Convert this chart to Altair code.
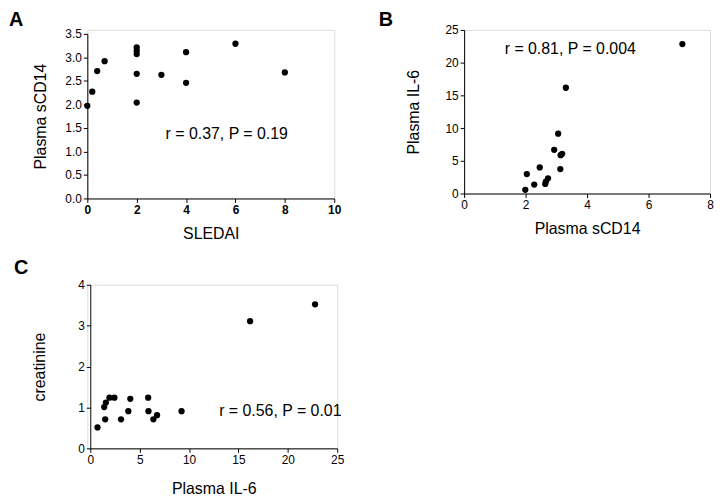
import altair as alt
import pandas as pd

FONT = "Liberation Sans"

# Panel A: SLEDAI vs Plasma sCD14
sledai = [0, 0.2, 0.4, 0.7, 2, 2, 2, 2, 2, 3, 4, 4, 6, 8]
scd14_a = [1.97, 2.27, 2.71, 2.92, 3.21, 3.14, 3.07, 2.65, 2.04, 2.63, 3.11, 2.46, 3.29, 2.68]

# Panel B: Plasma sCD14 vs Plasma IL-6
scd14_b = [1.99, 2.04, 2.28, 2.46, 2.64, 2.66, 2.73, 2.93, 3.06, 3.13, 3.14, 3.19, 3.31, 7.10]
il6_b = [0.56, 2.98, 1.36, 3.98, 1.47, 1.82, 2.32, 6.67, 9.14, 3.74, 5.86, 6.06, 16.16, 22.83]

# Panel C: Plasma IL-6 vs creatinine
il6_c = [0.73, 1.51, 1.41, 1.58, 1.94, 2.44, 3.11, 3.85, 4.05, 5.86, 5.89, 6.39, 6.76, 9.24, 16.18, 22.76]
creat_c = [0.51, 0.71, 1.01, 1.12, 1.24, 1.24, 0.71, 0.91, 1.21, 1.24, 0.91, 0.71, 0.81, 0.91, 3.11, 3.52]

labels = ["A", "B", "C"]
stats = ["r = 0.37, P = 0.19", "r = 0.81, P = 0.004", "r = 0.56, P = 0.01"]


def axis(title, values, fmt=None, bold=False, tpad=10, offset=0):
    kw = dict(title=title, values=values, grid=False, domainColor="black",
              tickColor="black", tickSize=4, labelColor="black", labelFont=FONT,
              labelFontSize=12, titleFont=FONT, titleFontSize=16,
              titleFontWeight="normal", titleColor="black", titlePadding=tpad,
              labelOverlap=False, labelFlush=False, offset=offset,
              labelFontWeight="bold" if bold else "normal")
    if fmt:
        kw["format"] = fmt
    return alt.Axis(**kw)


def panel(df, xdom, ydom, xax, yax, label, stat, sx, sy,
          lab_x, lab_y, w, h, xrange, yrange):
    xs = alt.Scale(domain=xdom, nice=False, zero=False, range=xrange)
    ys = alt.Scale(domain=ydom, nice=False, zero=False, range=yrange)
    pts = alt.Chart(df).mark_circle(size=40, color="black", opacity=1).encode(
        x=alt.X("x:Q", scale=xs, axis=xax),
        y=alt.Y("y:Q", scale=ys, axis=yax),
    )
    txt = alt.Chart(pd.DataFrame({"t": [stat]})).mark_text(
        font=FONT, fontSize=16, align="left", baseline="middle", color="black"
    ).encode(x=alt.X(datum=sx, scale=xs, axis=xax),
             y=alt.Y(datum=sy, scale=ys, axis=yax), text="t:N")
    lab = alt.Chart(pd.DataFrame({"t": [label]})).mark_text(
        font=FONT, fontSize=20, fontWeight="bold", align="left",
        baseline="top", color="black"
    ).encode(x=alt.value(lab_x), y=alt.value(lab_y), text="t:N")
    return alt.layer(pts, txt, lab).properties(width=w, height=h)


dfa = pd.DataFrame({"x": sledai, "y": scd14_a})
dfb = pd.DataFrame({"x": scd14_b, "y": il6_b})
dfc = pd.DataFrame({"x": il6_c, "y": creat_c})

pa = panel(dfa, [0, 10], [0, 3.5],
           axis("SLEDAI", [0, 2, 4, 6, 8, 10], bold=True, tpad=10),
           axis("Plasma sCD14", [0, 0.5, 1, 1.5, 2, 2.5, 3, 3.5], fmt=".1f", tpad=16),
           labels[0], stats[0], 3.17, 1.37, -79, -20,
           w=249, h=170, xrange=[0, 249], yrange=[170, 4])
pb = panel(dfb, [0, 8], [0, 25],
           axis("Plasma sCD14", [0, 2, 4, 6, 8], tpad=10),
           axis("Plasma IL-6", [0, 5, 10, 15, 20, 25], tpad=24),
           labels[1], stats[1], 1.32, 22.1, -86, -20,
           w=248, h=165, xrange=[0, 248], yrange=[165, 0])
pc = panel(dfc, [0, 25], [0, 4],
           axis("Plasma IL-6", [0, 5, 10, 15, 20, 25], tpad=16),
           axis("creatinine", [0, 1, 2, 3, 4], tpad=31, offset=-3),
           labels[2], stats[2], 13.05, 0.9, -74, -27,
           w=252, h=165, xrange=[3, 252], yrange=[165, 0])

chart = alt.vconcat(
    alt.hconcat(pa, pb, spacing=36),
    pc,
    spacing=15,
).properties(
    padding={"top": -1, "left": 0, "right": 0, "bottom": 0}
).configure_view(stroke=None).configure(background="white")

chart.save("out.html", embed_options={"renderer": "svg", "actions": False})
